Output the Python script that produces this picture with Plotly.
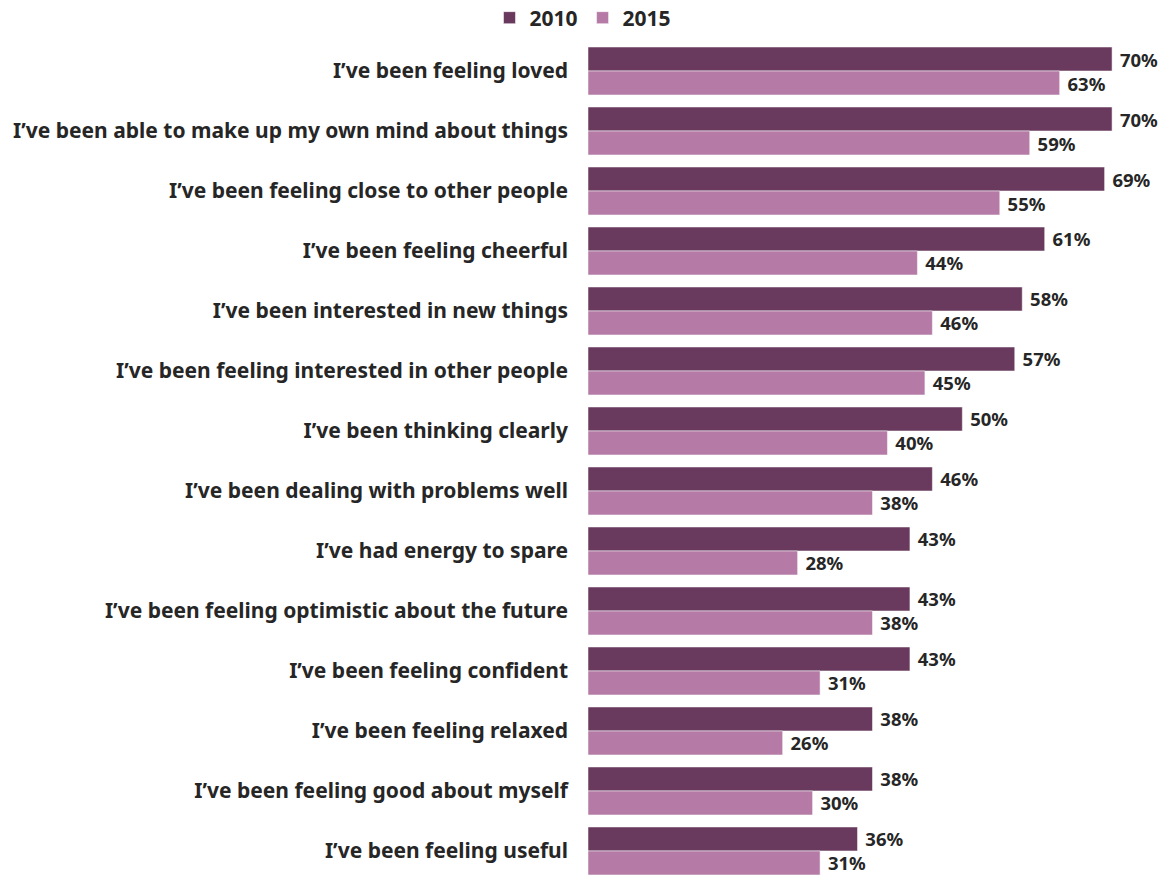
import plotly.graph_objects as go

categories = [
    "I’ve been feeling loved",
    "I’ve been able to make up my own mind about things",
    "I’ve been feeling close to other people",
    "I’ve been feeling cheerful",
    "I’ve been interested in new things",
    "I’ve been feeling interested in other people",
    "I’ve been thinking clearly",
    "I’ve been dealing with problems well",
    "I’ve had energy to spare",
    "I’ve been feeling optimistic about the future",
    "I’ve been feeling confident",
    "I’ve been feeling relaxed",
    "I’ve been feeling good about myself",
    "I’ve been feeling useful",
]
values_2010 = [70, 70, 69, 61, 58, 57, 50, 46, 43, 43, 43, 38, 38, 36]
values_2015 = [63, 59, 55, 44, 46, 45, 40, 38, 28, 38, 31, 26, 30, 31]

FONT = "Noto Sans"
TXT = "#262626"

fig = go.Figure()
for name, vals, col in [("2010", values_2010, "#6A3A5E"), ("2015", values_2015, "#B57BA6")]:
    fig.add_trace(go.Bar(
        y=categories, x=vals, name=name, orientation="h",
        marker=dict(color=col, line=dict(color="rgba(255,255,255,0.5)", width=1)),
        text=[f"\u00a0{v}%" for v in vals], textposition="outside", cliponaxis=False,
        constraintext="none",
        textfont=dict(family=FONT, size=18.5, color=TXT, weight="bold"),
    ))

fig.update_layout(
    width=1166, height=876,
    margin=dict(l=588, r=0, t=41, b=0, autoexpand=False),
    barmode="group", bargap=0.2, bargroupgap=0,
    plot_bgcolor="white", paper_bgcolor="white",
    font=dict(family=FONT, color=TXT),
    legend=dict(
        orientation="h", xref="container", yref="container",
        x=0.5, xanchor="center", y=1.0 - 18 / 876, yanchor="middle",
        font=dict(family=FONT, size=21, color=TXT, weight="bold"),
        traceorder="normal", tracegroupgap=0,
    ),
    xaxis=dict(range=[0, 77.2], visible=False, showgrid=False, zeroline=False,
               automargin=False),
    yaxis=dict(
        type="category", range=[13.417, -0.5], showgrid=False, zeroline=False,
        showline=False, ticks="", ticklabelstandoff=19, automargin=False,
        tickfont=dict(family=FONT, size=21, color=TXT, weight="bold"),
    ),
)

fig.write_html("out.html", config={"displayModeBar": False},
               post_script="document.body.style.margin='0px';")
